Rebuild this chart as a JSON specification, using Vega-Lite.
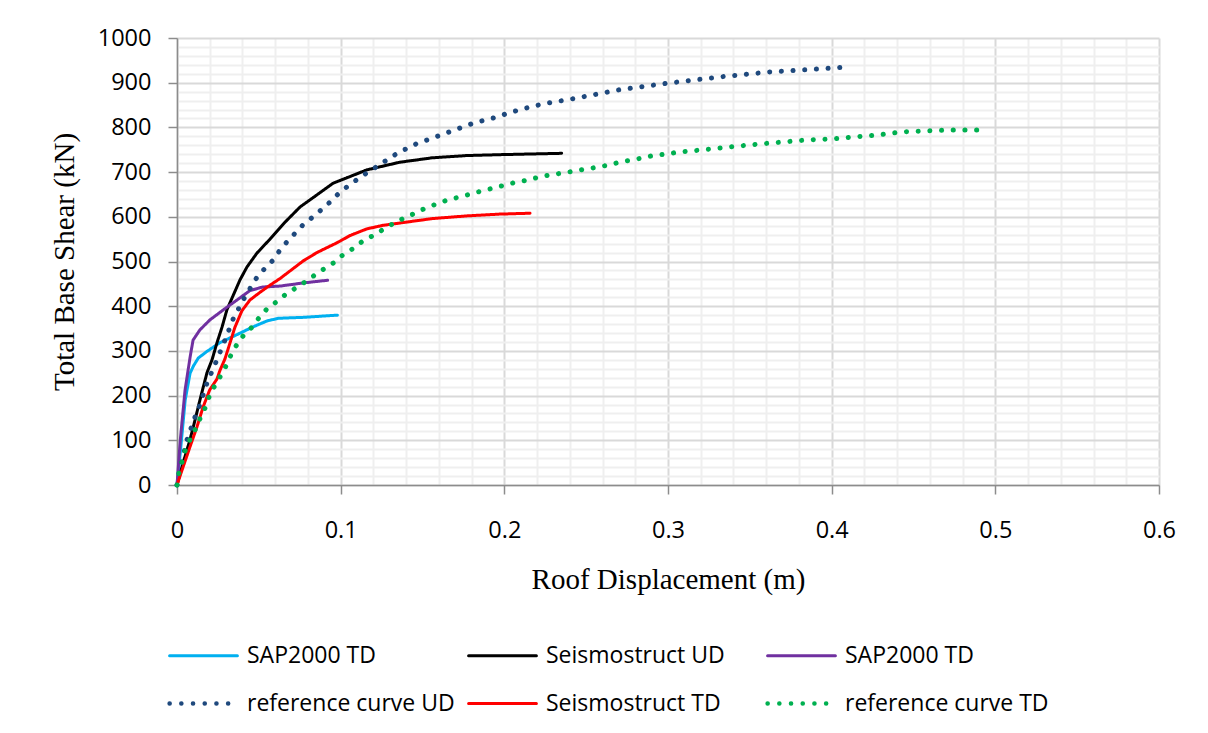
{
  "$schema": "https://vega.github.io/schema/vega-lite/v6.json",
  "width": 982,
  "height": 447,
  "autosize": "none",
  "padding": {"left": 177, "top": 38, "right": 49, "bottom": 248},
  "background": "white",
  "datasets": {
    "curves": [
      {"series": "a", "disp": 0, "shear": 0},
      {"series": "a", "disp": 0.002, "shear": 72},
      {"series": "a", "disp": 0.005, "shear": 190},
      {"series": "a", "disp": 0.008, "shear": 250},
      {"series": "a", "disp": 0.01, "shear": 266},
      {"series": "a", "disp": 0.013, "shear": 284},
      {"series": "a", "disp": 0.018, "shear": 298},
      {"series": "a", "disp": 0.026, "shear": 318},
      {"series": "a", "disp": 0.037, "shear": 337},
      {"series": "a", "disp": 0.046, "shear": 353},
      {"series": "a", "disp": 0.055, "shear": 367},
      {"series": "a", "disp": 0.062, "shear": 373},
      {"series": "a", "disp": 0.077, "shear": 375},
      {"series": "a", "disp": 0.098, "shear": 380},

      {"series": "b", "disp": 0, "shear": 0},
      {"series": "b", "disp": 0.0037, "shear": 49},
      {"series": "b", "disp": 0.0079, "shear": 101},
      {"series": "b", "disp": 0.011, "shear": 145},
      {"series": "b", "disp": 0.014, "shear": 190},
      {"series": "b", "disp": 0.0183, "shear": 251},
      {"series": "b", "disp": 0.0214, "shear": 280},
      {"series": "b", "disp": 0.0244, "shear": 318},
      {"series": "b", "disp": 0.0275, "shear": 353},
      {"series": "b", "disp": 0.0305, "shear": 392},
      {"series": "b", "disp": 0.0336, "shear": 418},
      {"series": "b", "disp": 0.0385, "shear": 459},
      {"series": "b", "disp": 0.0428, "shear": 488},
      {"series": "b", "disp": 0.0489, "shear": 519},
      {"series": "b", "disp": 0.0568, "shear": 550},
      {"series": "b", "disp": 0.066, "shear": 588},
      {"series": "b", "disp": 0.0752, "shear": 622},
      {"series": "b", "disp": 0.0855, "shear": 649},
      {"series": "b", "disp": 0.0953, "shear": 675},
      {"series": "b", "disp": 0.1057, "shear": 690},
      {"series": "b", "disp": 0.116, "shear": 705},
      {"series": "b", "disp": 0.136, "shear": 722},
      {"series": "b", "disp": 0.156, "shear": 732},
      {"series": "b", "disp": 0.177, "shear": 737},
      {"series": "b", "disp": 0.197, "shear": 739},
      {"series": "b", "disp": 0.235, "shear": 742},

      {"series": "c", "disp": 0, "shear": 0},
      {"series": "c", "disp": 0.002, "shear": 100},
      {"series": "c", "disp": 0.0049, "shear": 212},
      {"series": "c", "disp": 0.008, "shear": 286},
      {"series": "c", "disp": 0.0098, "shear": 324},
      {"series": "c", "disp": 0.014, "shear": 347},
      {"series": "c", "disp": 0.02, "shear": 369},
      {"series": "c", "disp": 0.028, "shear": 391},
      {"series": "c", "disp": 0.0367, "shear": 414},
      {"series": "c", "disp": 0.0446, "shear": 435},
      {"series": "c", "disp": 0.0525, "shear": 443},
      {"series": "c", "disp": 0.063, "shear": 445},
      {"series": "c", "disp": 0.077, "shear": 452},
      {"series": "c", "disp": 0.092, "shear": 458},

      {"series": "d", "disp": 0, "shear": 0},
      {"series": "d", "disp": 0.001, "shear": 20},
      {"series": "d", "disp": 0.0061, "shear": 101},
      {"series": "d", "disp": 0.011, "shear": 152},
      {"series": "d", "disp": 0.014, "shear": 179},
      {"series": "d", "disp": 0.0183, "shear": 228},
      {"series": "d", "disp": 0.0238, "shear": 275},
      {"series": "d", "disp": 0.0293, "shear": 324},
      {"series": "d", "disp": 0.0348, "shear": 376},
      {"series": "d", "disp": 0.0379, "shear": 396},
      {"series": "d", "disp": 0.0415, "shear": 421},
      {"series": "d", "disp": 0.0452, "shear": 443},
      {"series": "d", "disp": 0.0489, "shear": 465},
      {"series": "d", "disp": 0.0538, "shear": 485},
      {"series": "d", "disp": 0.0587, "shear": 503},
      {"series": "d", "disp": 0.063, "shear": 526},
      {"series": "d", "disp": 0.0672, "shear": 544},
      {"series": "d", "disp": 0.077, "shear": 582},
      {"series": "d", "disp": 0.0831, "shear": 600},
      {"series": "d", "disp": 0.0886, "shear": 617},
      {"series": "d", "disp": 0.0941, "shear": 635},
      {"series": "d", "disp": 0.099, "shear": 653},
      {"series": "d", "disp": 0.1045, "shear": 669},
      {"series": "d", "disp": 0.1106, "shear": 685},
      {"series": "d", "disp": 0.1167, "shear": 700},
      {"series": "d", "disp": 0.1228, "shear": 714},
      {"series": "d", "disp": 0.1289, "shear": 729},
      {"series": "d", "disp": 0.135, "shear": 743},
      {"series": "d", "disp": 0.1411, "shear": 754},
      {"series": "d", "disp": 0.1472, "shear": 765},
      {"series": "d", "disp": 0.1546, "shear": 774},
      {"series": "d", "disp": 0.1613, "shear": 783},
      {"series": "d", "disp": 0.168, "shear": 792},
      {"series": "d", "disp": 0.1747, "shear": 801},
      {"series": "d", "disp": 0.1815, "shear": 810},
      {"series": "d", "disp": 0.1888, "shear": 817},
      {"series": "d", "disp": 0.1955, "shear": 823},
      {"series": "d", "disp": 0.2022, "shear": 832},
      {"series": "d", "disp": 0.209, "shear": 839},
      {"series": "d", "disp": 0.2163, "shear": 846},
      {"series": "d", "disp": 0.223, "shear": 852},
      {"series": "d", "disp": 0.2303, "shear": 857},
      {"series": "d", "disp": 0.2377, "shear": 861},
      {"series": "d", "disp": 0.27, "shear": 884},
      {"series": "d", "disp": 0.3, "shear": 899},
      {"series": "d", "disp": 0.332, "shear": 913},
      {"series": "d", "disp": 0.362, "shear": 924},
      {"series": "d", "disp": 0.38, "shear": 928},
      {"series": "d", "disp": 0.409, "shear": 935},

      {"series": "e", "disp": 0, "shear": 0},
      {"series": "e", "disp": 0.0037, "shear": 40},
      {"series": "e", "disp": 0.0079, "shear": 85},
      {"series": "e", "disp": 0.0122, "shear": 130},
      {"series": "e", "disp": 0.0159, "shear": 174},
      {"series": "e", "disp": 0.02, "shear": 213},
      {"series": "e", "disp": 0.0244, "shear": 237},
      {"series": "e", "disp": 0.0263, "shear": 257},
      {"series": "e", "disp": 0.0293, "shear": 282},
      {"series": "e", "disp": 0.0324, "shear": 318},
      {"series": "e", "disp": 0.0354, "shear": 353},
      {"series": "e", "disp": 0.0397, "shear": 390},
      {"series": "e", "disp": 0.0446, "shear": 414},
      {"series": "e", "disp": 0.0507, "shear": 431},
      {"series": "e", "disp": 0.0568, "shear": 447},
      {"series": "e", "disp": 0.063, "shear": 462},
      {"series": "e", "disp": 0.077, "shear": 501},
      {"series": "e", "disp": 0.0855, "shear": 520},
      {"series": "e", "disp": 0.0978, "shear": 542},
      {"series": "e", "disp": 0.1057, "shear": 558},
      {"series": "e", "disp": 0.116, "shear": 573},
      {"series": "e", "disp": 0.126, "shear": 581},
      {"series": "e", "disp": 0.136, "shear": 586},
      {"series": "e", "disp": 0.156, "shear": 596},
      {"series": "e", "disp": 0.177, "shear": 602},
      {"series": "e", "disp": 0.197, "shear": 606},
      {"series": "e", "disp": 0.2157, "shear": 608},

      {"series": "f", "disp": 0, "shear": 0},
      {"series": "f", "disp": 0.0012, "shear": 27},
      {"series": "f", "disp": 0.0049, "shear": 76},
      {"series": "f", "disp": 0.0079, "shear": 101},
      {"series": "f", "disp": 0.011, "shear": 123},
      {"series": "f", "disp": 0.014, "shear": 148},
      {"series": "f", "disp": 0.0171, "shear": 172},
      {"series": "f", "disp": 0.0196, "shear": 197},
      {"series": "f", "disp": 0.0226, "shear": 219},
      {"series": "f", "disp": 0.0263, "shear": 242},
      {"series": "f", "disp": 0.0299, "shear": 266},
      {"series": "f", "disp": 0.033, "shear": 291},
      {"series": "f", "disp": 0.0367, "shear": 315},
      {"series": "f", "disp": 0.0409, "shear": 336},
      {"series": "f", "disp": 0.0458, "shear": 353},
      {"series": "f", "disp": 0.0501, "shear": 374},
      {"series": "f", "disp": 0.055, "shear": 394},
      {"series": "f", "disp": 0.0605, "shear": 409},
      {"series": "f", "disp": 0.0666, "shear": 427},
      {"series": "f", "disp": 0.0727, "shear": 441},
      {"series": "f", "disp": 0.0782, "shear": 454},
      {"series": "f", "disp": 0.0843, "shear": 470},
      {"series": "f", "disp": 0.0904, "shear": 485},
      {"series": "f", "disp": 0.0965, "shear": 499},
      {"series": "f", "disp": 0.102, "shear": 517},
      {"series": "f", "disp": 0.1081, "shear": 530},
      {"series": "f", "disp": 0.1136, "shear": 546},
      {"series": "f", "disp": 0.1204, "shear": 559},
      {"series": "f", "disp": 0.1265, "shear": 573},
      {"series": "f", "disp": 0.1326, "shear": 586},
      {"series": "f", "disp": 0.1387, "shear": 597},
      {"series": "f", "disp": 0.1454, "shear": 608},
      {"series": "f", "disp": 0.1521, "shear": 620},
      {"series": "f", "disp": 0.1589, "shear": 629},
      {"series": "f", "disp": 0.1656, "shear": 638},
      {"series": "f", "disp": 0.1723, "shear": 644},
      {"series": "f", "disp": 0.1796, "shear": 651},
      {"series": "f", "disp": 0.1863, "shear": 658},
      {"series": "f", "disp": 0.1931, "shear": 664},
      {"series": "f", "disp": 0.2004, "shear": 671},
      {"series": "f", "disp": 0.2077, "shear": 678},
      {"series": "f", "disp": 0.2145, "shear": 682},
      {"series": "f", "disp": 0.2212, "shear": 689},
      {"series": "f", "disp": 0.2285, "shear": 694},
      {"series": "f", "disp": 0.2358, "shear": 698},
      {"series": "f", "disp": 0.2426, "shear": 702},
      {"series": "f", "disp": 0.2499, "shear": 707},
      {"series": "f", "disp": 0.2572, "shear": 711},
      {"series": "f", "disp": 0.2639, "shear": 716},
      {"series": "f", "disp": 0.2713, "shear": 723},
      {"series": "f", "disp": 0.278, "shear": 727},
      {"series": "f", "disp": 0.2847, "shear": 732},
      {"series": "f", "disp": 0.292, "shear": 738},
      {"series": "f", "disp": 0.2994, "shear": 740},
      {"series": "f", "disp": 0.3061, "shear": 745},
      {"series": "f", "disp": 0.3134, "shear": 747},
      {"series": "f", "disp": 0.3318, "shear": 754},
      {"series": "f", "disp": 0.3562, "shear": 763},
      {"series": "f", "disp": 0.3849, "shear": 772},
      {"series": "f", "disp": 0.3996, "shear": 774},
      {"series": "f", "disp": 0.4142, "shear": 779},
      {"series": "f", "disp": 0.4283, "shear": 783},
      {"series": "f", "disp": 0.443, "shear": 790},
      {"series": "f", "disp": 0.457, "shear": 792},
      {"series": "f", "disp": 0.4717, "shear": 794},
      {"series": "f", "disp": 0.493, "shear": 794}
    ]
  },
  "data": {"name": "curves"},
  "layer": [
    {
      "mark": {"type": "line", "opacity": 0},
      "encoding": {
        "x": {
          "field": "disp", "type": "quantitative",
          "scale": {"domain": [0, 0.6], "nice": false, "zero": true},
          "axis": {
            "orient": "bottom", "values": [0.02, 0.04, 0.06, 0.08, 0.12, 0.14, 0.16, 0.18, 0.22, 0.24, 0.26, 0.28, 0.32, 0.34, 0.36, 0.38, 0.42, 0.44, 0.46, 0.48, 0.52, 0.54, 0.56, 0.58],
            "grid": true, "gridColor": "#efefef", "gridWidth": 2,
            "domain": false, "ticks": false, "labels": false, "title": null
          }
        },
        "y": {
          "field": "shear", "type": "quantitative",
          "scale": {"domain": [0, 1000], "nice": false},
          "axis": {
            "orient": "left", "values": [20, 40, 60, 80, 120, 140, 160, 180, 220, 240, 260, 280, 320, 340, 360, 380, 420, 440, 460, 480, 520, 540, 560, 580, 620, 640, 660, 680, 720, 740, 760, 780, 820, 840, 860, 880, 920, 940, 960, 980],
            "grid": true, "gridColor": "#efefef", "gridWidth": 2,
            "domain": false, "ticks": false, "labels": false, "title": null
          }
        }
      }
    },
    {
      "mark": {"type": "line", "strokeCap": "round", "strokeJoin": "round"},
      "encoding": {
        "x": {
          "field": "disp", "type": "quantitative",
          "axis": {
            "orient": "bottom", "values": [0, 0.1, 0.2, 0.3, 0.4, 0.5, 0.6], "format": "~g",
            "grid": true, "gridColor": "#d9d9d9", "gridWidth": 2,
            "domain": true, "domainColor": "#8c8c8c", "domainWidth": 1.5,
            "ticks": true, "tickColor": "#8c8c8c", "tickWidth": 1.5, "tickSize": 9,
            "labelFont": "Open Sans", "labelFontSize": 23.5, "labelColor": "#000000", "labelPadding": 24,
            "labelFlush": false, "labelOverlap": false,
            "title": "Roof Displacement (m)", "titleFont": "Liberation Serif", "titleFontSize": 29,
            "titleFontWeight": "normal", "titleColor": "#000000", "titlePadding": 24
          }
        },
        "y": {
          "field": "shear", "type": "quantitative",
          "axis": {
            "orient": "left", "values": [0, 100, 200, 300, 400, 500, 600, 700, 800, 900, 1000], "format": "d",
            "grid": true, "gridColor": "#d9d9d9", "gridWidth": 2,
            "domain": true, "domainColor": "#8c8c8c", "domainWidth": 1.5,
            "ticks": true, "tickColor": "#8c8c8c", "tickWidth": 1.5, "tickSize": 9,
            "labelFont": "Open Sans", "labelFontSize": 23.5, "labelColor": "#000000", "labelPadding": 17,
            "labelFlush": false, "labelOverlap": false,
            "title": "Total Base Shear (kN)", "titleFont": "Liberation Serif", "titleFontSize": 29,
            "titleFontWeight": "normal", "titleColor": "#000000", "titlePadding": 18
          }
        },
        "color": {
          "field": "series", "type": "nominal",
          "scale": {"domain": ["a", "b", "c", "d", "e", "f"], "range": ["#00b0f0", "#000000", "#7030a0", "#1f497d", "#ff0000", "#00b050"]},
          "legend": {
            "orient": "none", "legendX": -7, "legendY": 606,
            "direction": "horizontal", "columns": 3, "gridAlign": "all",
            "columnPadding": 4, "rowPadding": 24,
            "symbolType": "stroke", "symbolSize": 4600, "symbolStrokeWidth": 3, "symbolOffset": 22,
            "labelFont": "Open Sans", "labelFontSize": 23, "labelColor": "#000000", "labelOffset": 32, "labelLimit": 400,
            "title": null,
            "labelExpr": "datum.value == 'a' || datum.value == 'c' ? 'SAP2000 TD' : datum.value == 'b' ? 'Seismostruct UD' : datum.value == 'd' ? 'reference curve UD' : datum.value == 'e' ? 'Seismostruct TD' : 'reference curve TD'",
            "encode": {
              "symbols": {
                "update": {
                  "strokeCap": {"value": "round"},
                  "strokeWidth": {"signal": "datum.value == 'd' || datum.value == 'f' ? 4.5 : 3"}
                }
              }
            }
          }
        },
        "strokeDash": {
          "field": "series", "type": "nominal",
          "scale": {"domain": ["a", "b", "c", "d", "e", "f"], "range": [[1, 0], [1, 0], [1, 0], [0.1, 11.6], [1, 0], [0.1, 11.6]]},
          "legend": null
        },
        "strokeWidth": {
          "condition": {"test": "datum.series == 'd' || datum.series == 'f'", "value": 5},
          "value": 3
        }
      }
    }
  ],
  "resolve": {"axis": {"x": "independent", "y": "independent"}},
  "config": {
    "view": {"stroke": null}
  }
}
